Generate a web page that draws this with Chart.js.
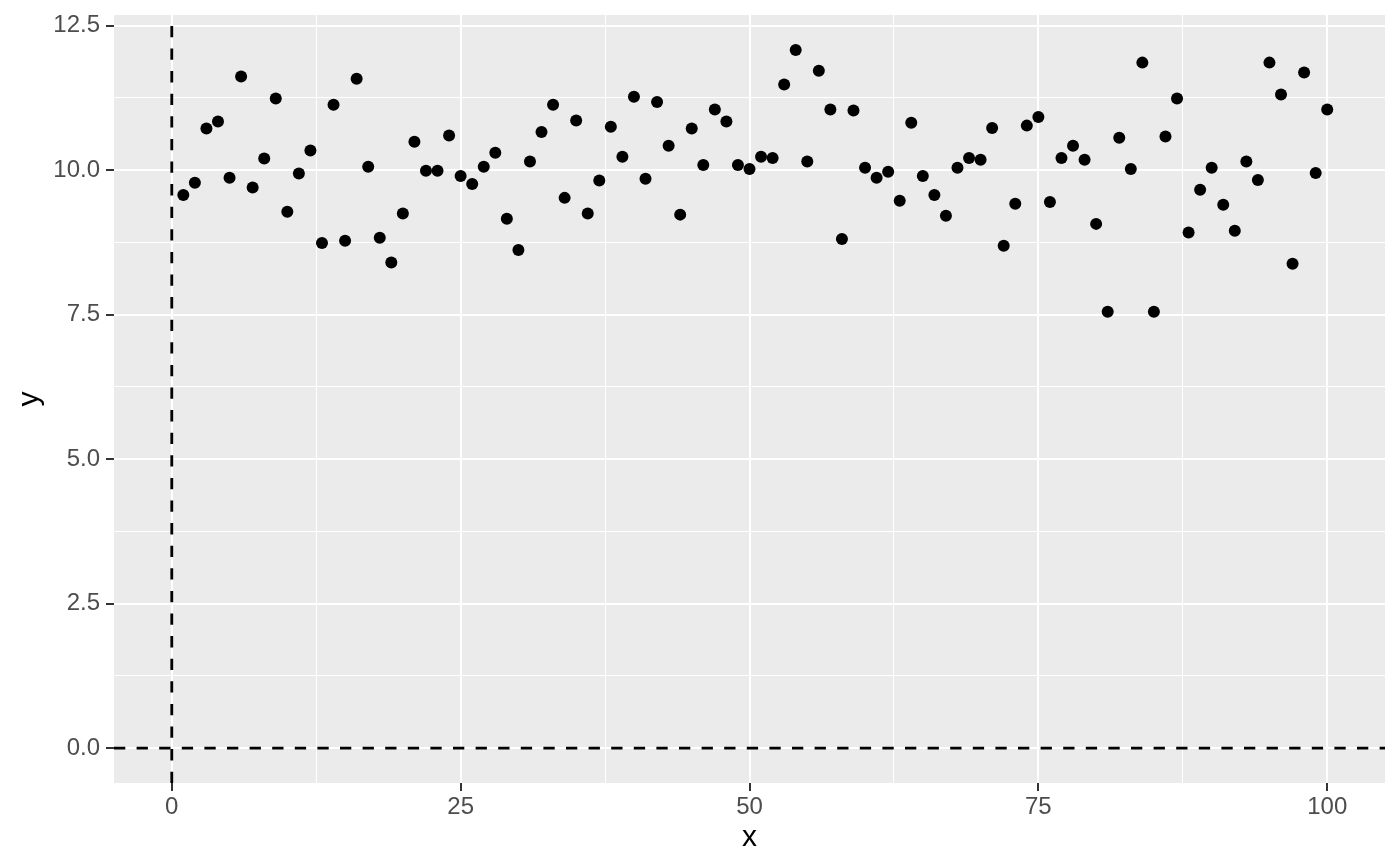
<!DOCTYPE html>
<html>
<head>
<meta charset="utf-8">
<title>Scatter of y against x</title>
<script src="https://cdn.jsdelivr.net/npm/chart.js@4.4.1/dist/chart.umd.min.js"></script>
<style>
    html, body { margin: 0; padding: 0; background: #ffffff; }
    canvas { display: block; }
</style>
</head>
<body>
<canvas id="scatter-chart" width="1400" height="866"></canvas>
<script>
// x positions of the points
const xValues = [
    1, 2, 3, 4, 5, 6, 7, 8, 9, 10, 11, 12, 13, 14, 15, 16, 17, 18, 19, 20,
    21, 22, 23, 24, 25, 26, 27, 28, 29, 30, 31, 32, 33, 34, 35, 36, 37, 38, 39, 40,
    41, 42, 43, 44, 45, 46, 47, 48, 49, 50, 51, 52, 53, 54, 55, 56, 57, 58, 59, 60,
    61, 62, 63, 64, 65, 66, 67, 68, 69, 70, 71, 72, 73, 74, 75, 76, 77, 78, 79, 80,
    81, 82, 83, 84, 85, 86, 87, 88, 89, 90, 91, 92, 93, 94, 95, 96, 97, 98, 99, 100
];

// y values
const yValues = [
    9.57, 9.78, 10.72, 10.84, 9.87, 11.62, 9.70, 10.20, 11.24, 9.28,
    9.94, 10.34, 8.74, 11.13, 8.78, 11.58, 10.06, 8.83, 8.40, 9.25,
    10.49, 9.99, 9.99, 10.60, 9.90, 9.76, 10.06, 10.30, 9.16, 8.62,
    10.15, 10.66, 11.13, 9.52, 10.86, 9.25, 9.82, 10.75, 10.23, 11.27,
    9.85, 11.18, 10.42, 9.23, 10.72, 10.09, 11.05, 10.84, 10.09, 10.02,
    10.23, 10.21, 11.48, 12.08, 10.15, 11.72, 11.05, 8.81, 11.03, 10.04,
    9.87, 9.97, 9.47, 10.82, 9.90, 9.57, 9.21, 10.04, 10.21, 10.18,
    10.73, 8.69, 9.42, 10.77, 10.92, 9.45, 10.21, 10.42, 10.18, 9.07,
    7.55, 10.56, 10.02, 11.86, 7.55, 10.58, 11.24, 8.92, 9.66, 10.04,
    9.40, 8.95, 10.15, 9.83, 11.86, 11.31, 8.38, 11.69, 9.95, 11.05
];

// reference lines (dashed)
const vlineX = 0;
const hlineY = 0;

// grid breaks, labelled ones are the majors
const xBreaks = [0, 12.5, 25, 37.5, 50, 62.5, 75, 87.5, 100];
const xMajor = [0, 25, 50, 75, 100];
const yBreaks = [0, 1.25, 2.5, 3.75, 5, 6.25, 7.5, 8.75, 10, 11.25, 12.5];
const yMajor = [0, 2.5, 5, 7.5, 10, 12.5];

const xRange = [-5, 105];
const yRange = [-0.604, 12.684];

const FONT = '"Liberation Sans", Arial, sans-serif';

const points = xValues.map((x, i) => ({ x: x, y: yValues[i] }));

// grey panel behind everything
const panelBackground = {
    id: 'panelBackground',
    beforeDraw(chart) {
        const { ctx, chartArea } = chart;
        ctx.save();
        ctx.fillStyle = '#ffffff';
        ctx.fillRect(0, 0, chart.width, chart.height);
        ctx.fillStyle = '#EBEBEB';
        ctx.fillRect(chartArea.left, chartArea.top, chartArea.right - chartArea.left, chartArea.bottom - chartArea.top);
        ctx.restore();
    }
};

// dashed hline / vline through the scales
const refLines = {
    id: 'refLines',
    beforeDatasetsDraw(chart) {
        const { ctx, chartArea, scales } = chart;
        const px = scales.x.getPixelForValue(vlineX);
        const py = scales.y.getPixelForValue(hlineY);
        ctx.save();
        ctx.beginPath();
        ctx.rect(chartArea.left, chartArea.top, chartArea.right - chartArea.left, chartArea.bottom - chartArea.top);
        ctx.clip();
        ctx.strokeStyle = '#000000';
        ctx.lineWidth = 2.8;
        ctx.setLineDash([11.3, 11.3]);
        ctx.beginPath();
        ctx.moveTo(chartArea.left, py);
        ctx.lineTo(chartArea.right, py);
        ctx.stroke();
        ctx.beginPath();
        ctx.moveTo(px, chartArea.bottom);
        ctx.lineTo(px, chartArea.top);
        ctx.stroke();
        ctx.restore();
    }
};

function isMajor(list, v) {
    return list.some(m => Math.abs(m - v) < 1e-9);
}

new Chart(document.getElementById('scatter-chart'), {
    type: 'scatter',
    data: {
        datasets: [{
            data: points,
            backgroundColor: '#000000',
            borderWidth: 0,
            pointRadius: 6,
            pointHoverRadius: 6
        }]
    },
    options: {
        responsive: false,
        animation: false,
        devicePixelRatio: 1,
        layout: { padding: { top: 15, right: 15, left: 0, bottom: 0 } },
        plugins: {
            legend: { display: false },
            tooltip: { enabled: false }
        },
        scales: {
            x: {
                type: 'linear',
                min: xRange[0],
                max: xRange[1],
                afterFit: scale => {
                    scale.height = 83;
                    scale.paddingLeft = 0;
                    scale.paddingRight = 0;
                },
                afterBuildTicks: scale => { scale.ticks = xBreaks.map(v => ({ value: v })); },
                border: { display: false },
                grid: {
                    color: '#ffffff',
                    lineWidth: c => isMajor(xMajor, c.tick.value) ? 2 : 1,
                    tickColor: c => isMajor(xMajor, c.tick.value) ? '#333333' : 'rgba(0,0,0,0)',
                    tickLength: 8,
                    tickWidth: 2
                },
                ticks: {
                    autoSkip: false,
                    maxRotation: 0,
                    padding: 4,
                    color: '#4D4D4D',
                    font: { family: FONT, size: 24, lineHeight: 1 },
                    callback: v => isMajor(xMajor, v) ? String(v) : ''
                },
                title: {
                    display: true,
                    text: 'x',
                    color: '#000000',
                    font: { family: FONT, size: 30, lineHeight: 1 },
                    padding: { top: 0, bottom: 13 }
                }
            },
            y: {
                type: 'linear',
                min: yRange[0],
                max: yRange[1],
                afterFit: scale => {
                    scale.width = 114;
                    scale.paddingTop = 0;
                    scale.paddingBottom = 0;
                },
                afterBuildTicks: scale => { scale.ticks = yBreaks.map(v => ({ value: v })); },
                border: { display: false },
                grid: {
                    color: '#ffffff',
                    lineWidth: c => isMajor(yMajor, c.tick.value) ? 2 : 1,
                    tickColor: c => isMajor(yMajor, c.tick.value) ? '#333333' : 'rgba(0,0,0,0)',
                    tickLength: 8,
                    tickWidth: 2
                },
                ticks: {
                    autoSkip: false,
                    padding: 6,
                    color: '#4D4D4D',
                    font: { family: FONT, size: 24, lineHeight: 1 },
                    callback: v => isMajor(yMajor, v) ? v.toFixed(1) : ''
                },
                title: {
                    display: true,
                    text: 'y',
                    color: '#000000',
                    font: { family: FONT, size: 30, lineHeight: 1 },
                    padding: { top: 15, bottom: 0 }
                }
            }
        }
    },
    plugins: [panelBackground, refLines]
});
</script>
</body>
</html>
